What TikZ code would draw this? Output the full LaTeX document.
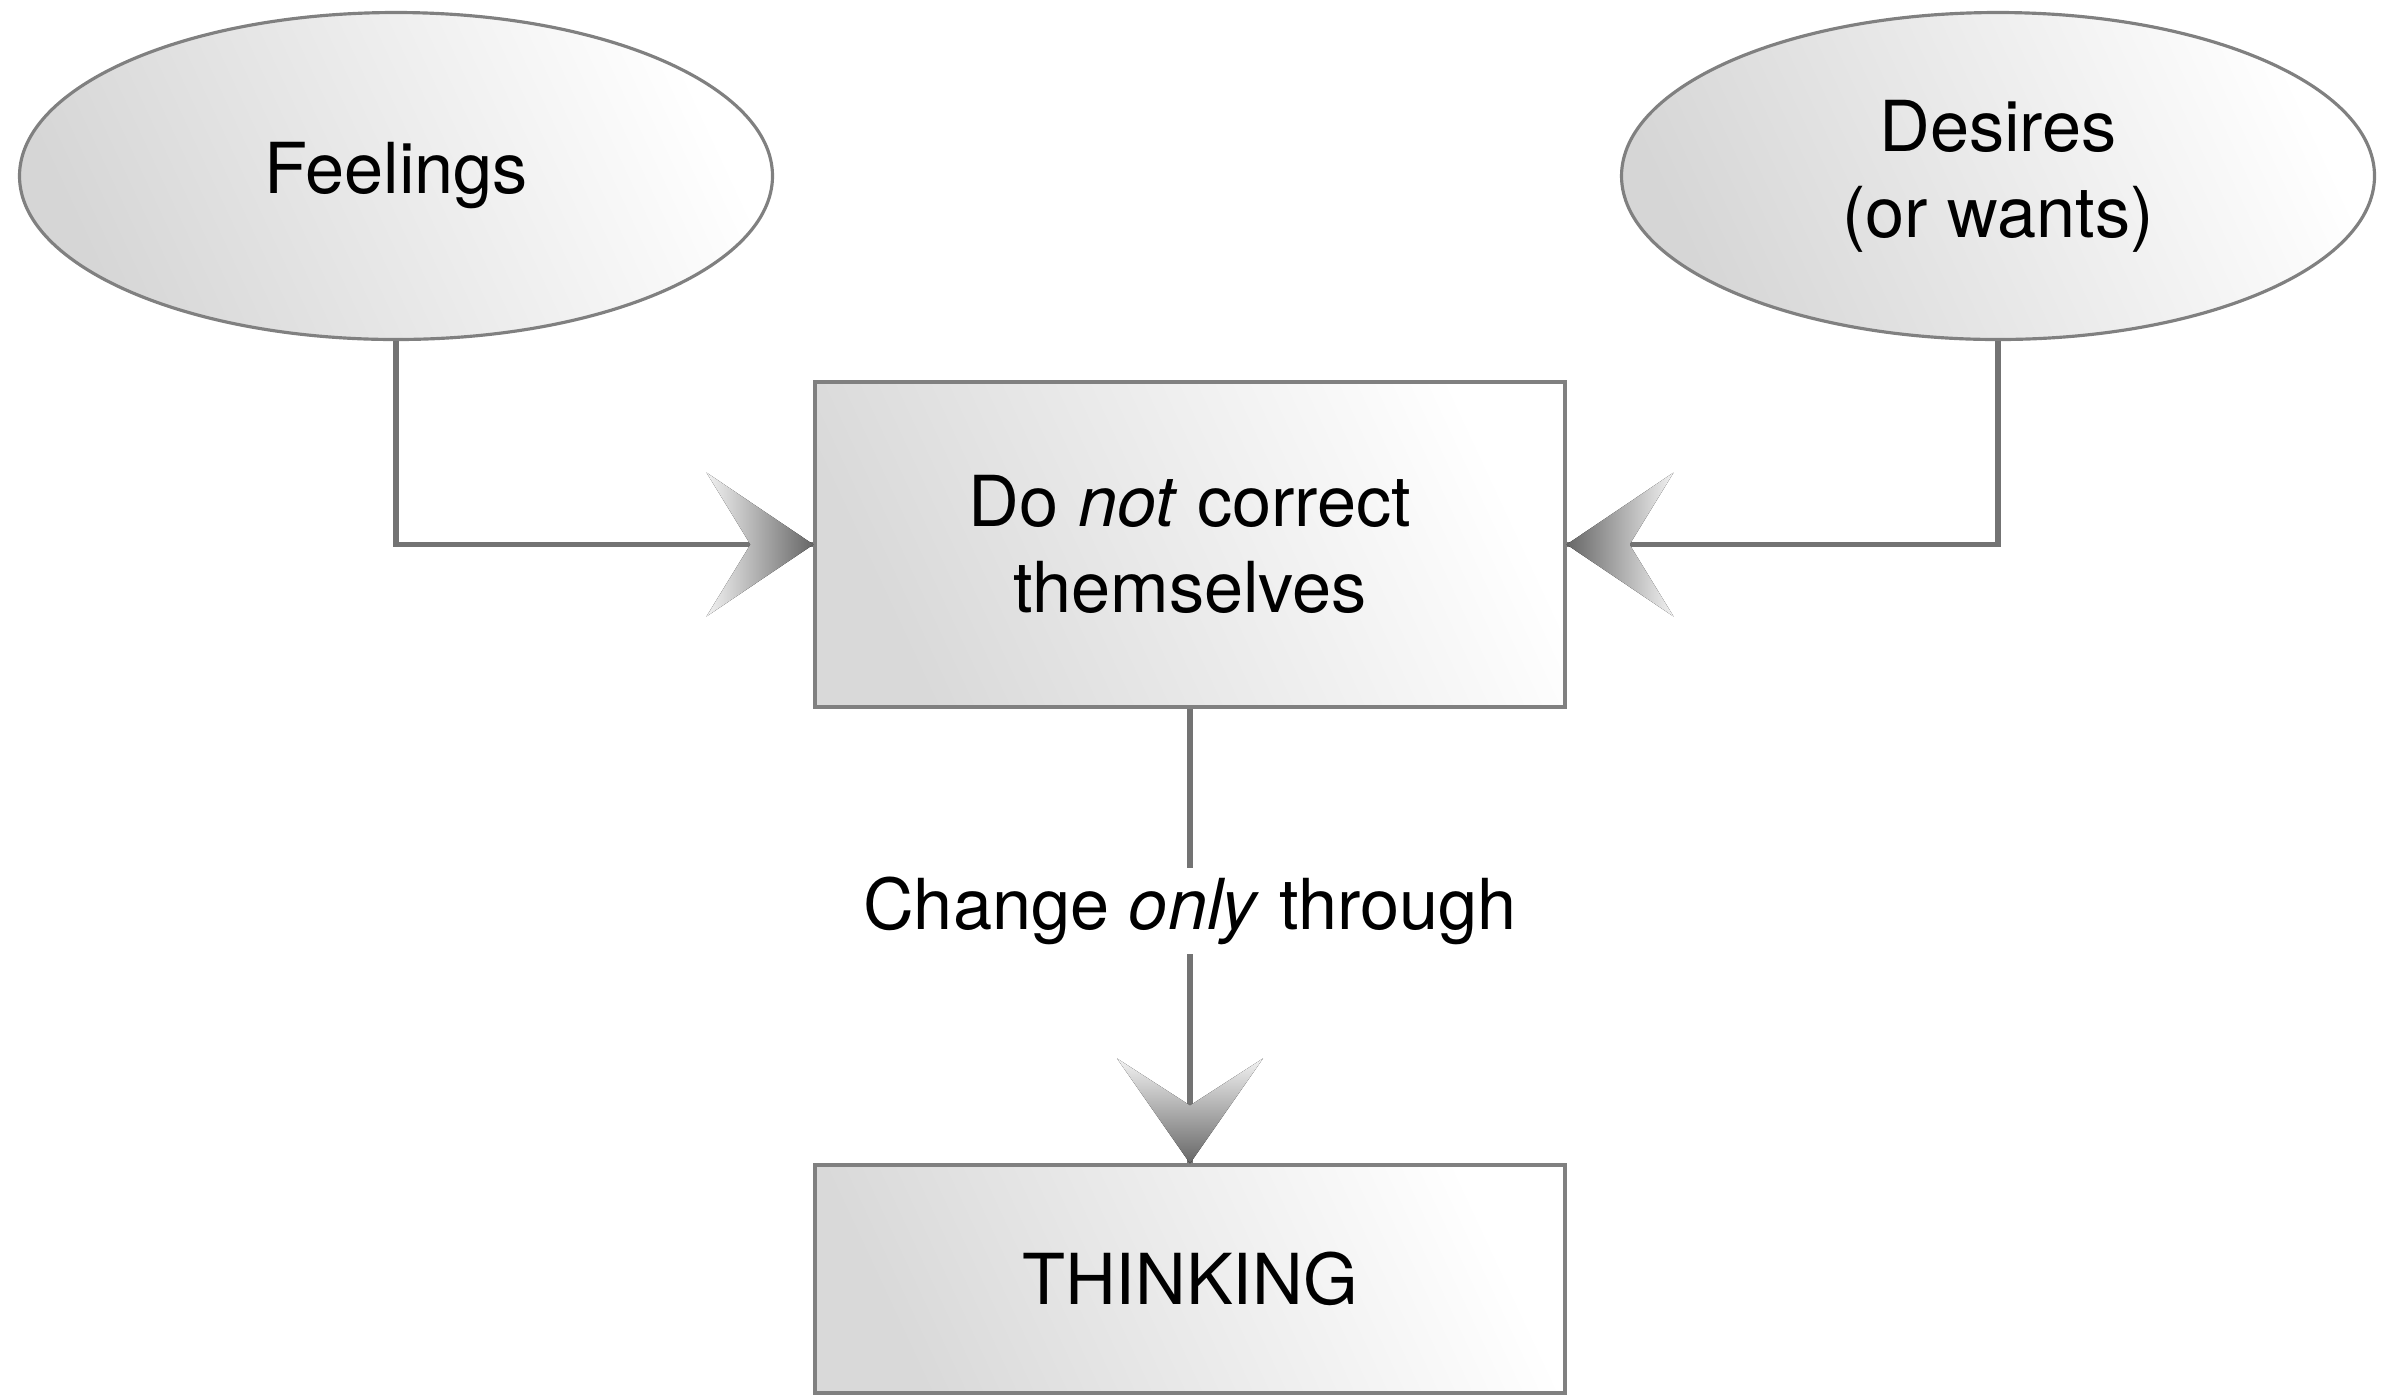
\documentclass[tikz,border=0pt]{standalone}
\usepackage{fontspec}
\setmainfont{TeX Gyre Heros}
\usetikzlibrary{shapes.geometric, arrows.meta, positioning}
\definecolor{EdgeGray}{rgb}{0.5, 0.5, 0.5}
\definecolor{LinkGray}{rgb}{0.45, 0.45, 0.45}
\tikzstyle{bubble} = [ellipse, minimum width=7.53cm, minimum height=3.27cm, inner sep=0pt, draw=EdgeGray, line width=0.9pt, left color=black!16, right color=white, shading angle=115, align=center, font=\fontsize{20}{24.5}\selectfont]
\tikzstyle{block} = [rectangle, minimum width=7.5cm, inner sep=0pt, draw=EdgeGray, line width=0.9pt, left color=black!15, right color=white, shading angle=115, align=center, font=\fontsize{20}{24.5}\selectfont]
\tikzstyle{link} = [line width=1.6pt, draw=LinkGray]
\tikzstyle{head} = [draw=none]

\begin{document}
\begin{tikzpicture}
\useasboundingbox (0,0) rectangle (23.94,-13.96);
\node[bubble] (feel) at (3.96,-1.76) {Feelings};
\node[bubble] (want) at (19.98,-1.76) {Desires\\(or wants)};
\node[block, minimum height=3.25cm] (fix) at (11.90,-5.445) {Do \textit{not} correct\\themselves};
\node[block, minimum height=2.28cm] (think) at (11.90,-12.79) {THINKING};
\path[link] (feel.south) |- (fix.west);
\path[link] (want.south) |- (fix.east);
\path[link] (fix.south) -- node[pos=0.445, fill=white, inner xsep=2pt, inner ysep=2.5pt, font=\fontsize{20}{24}\selectfont] (via) {Change \textit{only} through} (think.north);
% shaded chevron heads
\fill[head, left color=black!5, right color=black!60] (fix.west) -- ++(-1.07,0.72) -- ++(0.44,-0.72) -- ++(-0.44,-0.72) -- cycle;
\fill[head, left color=black!60, right color=black!5] (fix.east) -- ++(1.07,0.72) -- ++(-0.44,-0.72) -- ++(0.44,-0.72) -- cycle;
\fill[head, top color=black!5, bottom color=black!60] (think.north) -- ++(-0.73,1.05) -- ++(0.73,-0.47) -- ++(0.73,0.47) -- cycle;
\end{tikzpicture}
\end{document}
